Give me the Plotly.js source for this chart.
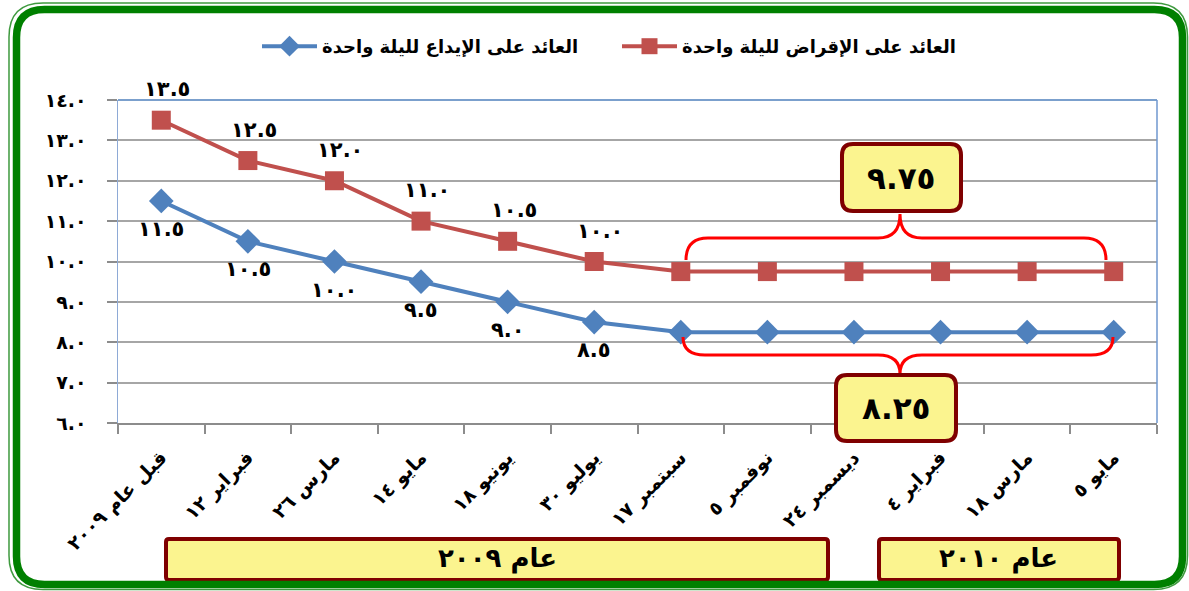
<!DOCTYPE html>
<html>
<head>
<meta charset="utf-8">
<script src="https://cdn.plot.ly/plotly-3.0.1.min.js"></script>
<style>
  html, body { margin: 0; padding: 0; background: #ffffff; }
  #chart { width: 1189px; height: 591px; }
</style>
</head>
<body>
<div id="chart"></div>
<script>
// ---------- DATA ----------
const categories = ['قبل عام ٢٠٠٩', 'فبراير ١٢', 'مارس ٢٦', 'مايو ١٤', 'يونيو ١٨', 'يوليو ٣٠',
                    'سبتمبر ١٧', 'نوفمبر ٥', 'ديسمبر ٢٤', 'فبراير ٤', 'مارس ١٨', 'مايو ٥'];
const depositRate = [11.5, 10.5, 10.0, 9.5, 9.0, 8.5, 8.25, 8.25, 8.25, 8.25, 8.25, 8.25];
const lendingRate = [13.5, 12.5, 12.0, 11.0, 10.5, 10.0, 9.75, 9.75, 9.75, 9.75, 9.75, 9.75];
const depositName = 'العائد على الإيداع لليلة واحدة';
const lendingName = 'العائد على الإقراض لليلة واحدة';
const yTickValues = [6, 7, 8, 9, 10, 11, 12, 13, 14];
const yTickLabels = ['٦.٠', '٧.٠', '٨.٠', '٩.٠', '١٠.٠', '١١.٠', '١٢.٠', '١٣.٠', '١٤.٠'];
const labeledPoints = 6;               // individual labels on the first six points
const lendingCallout = '٩.٧٥';
const depositCallout = '٨.٢٥';
const yearLabels = ['عام ٢٠٠٩', 'عام ٢٠١٠'];

// ---------- HELPERS ----------
const AR = '٠١٢٣٤٥٦٧٨٩';
function toArabic(s) { return String(s).replace(/[0-9]/g, d => AR[+d]); }

const W = 1189, H = 591;
const M = { l: 118, r: 32, t: 100, b: 168 };
const PW = W - M.l - M.r, PH = H - M.t - M.b;
function px(x) { return (x - M.l) / PW; }
function py(y) { return (H - M.b - y) / PH; }
function P(x, y) { return px(x).toFixed(5) + ',' + py(y).toFixed(5); }
function rrect(x0, y0, x1, y1, r) {
  return 'M' + P(x0 + r, y0) + ' L' + P(x1 - r, y0) + ' Q' + P(x1, y0) + ' ' + P(x1, y0 + r) +
         ' L' + P(x1, y1 - r) + ' Q' + P(x1, y1) + ' ' + P(x1 - r, y1) +
         ' L' + P(x0 + r, y1) + ' Q' + P(x0, y1) + ' ' + P(x0, y1 - r) +
         ' L' + P(x0, y0 + r) + ' Q' + P(x0, y0) + ' ' + P(x0 + r, y0) + ' Z';
}
// curly brace: ends at yEnd, bar at yBar, tip at yTip
function brace(x0, x1, xm, yEnd, yBar, yTip, r) {
  return 'M' + P(x0, yEnd) + ' Q' + P(x0, yBar) + ' ' + P(x0 + r, yBar) +
         ' L' + P(xm - r, yBar) + ' Q' + P(xm, yBar) + ' ' + P(xm, yTip) +
         ' Q' + P(xm, yBar) + ' ' + P(xm + r, yBar) +
         ' L' + P(x1 - r, yBar) + ' Q' + P(x1, yBar) + ' ' + P(x1, yEnd);
}

const FONT = 'DejaVu Sans';
const idx = categories.map((_, i) => i);
const boundaries = categories.map((_, i) => i - 0.5).concat([categories.length - 0.5]);

const traces = [
  {
    type: 'scatter', mode: 'lines+markers', name: depositName,
    x: idx, y: depositRate,
    line: { color: '#4f81bd', width: 4 },
    marker: { symbol: 'diamond', size: 19, color: '#4f81bd' },
    hoverinfo: 'skip'
  },
  {
    type: 'scatter', mode: 'lines+markers', name: lendingName,
    x: idx, y: lendingRate,
    line: { color: '#c0504d', width: 4 },
    marker: { symbol: 'square', size: 19, color: '#c0504d' },
    hoverinfo: 'skip'
  }
];

const annotations = [];
const labelFont = { family: FONT, size: 21, color: '#000', weight: 'bold' };
for (let i = 0; i < labeledPoints; i++) {
  annotations.push({
    x: i, y: lendingRate[i], xref: 'x', yref: 'y', showarrow: false,
    xanchor: 'center', yanchor: 'middle',
    text: toArabic(lendingRate[i].toFixed(1)), yshift: 31, xshift: 6, font: labelFont
  });
  annotations.push({
    x: i, y: depositRate[i], xref: 'x', yref: 'y', showarrow: false,
    xanchor: 'center', yanchor: 'middle',
    text: toArabic(depositRate[i].toFixed(1)), yshift: -28, xshift: 0, font: labelFont
  });
}
function paperText(x, y, text, size) {
  return { xref: 'paper', yref: 'paper', x: px(x), y: py(y), xanchor: 'center', yanchor: 'middle',
           showarrow: false, text: text, font: { family: FONT, size: size, color: '#000', weight: 'bold' } };
}
annotations.push(paperText(901.5, 178, lendingCallout, 31));
annotations.push(paperText(896, 408, depositCallout, 31));
annotations.push(paperText(497, 558, yearLabels[0], 26));
annotations.push(paperText(998, 558, yearLabels[1], 26));

const boxLine = { color: '#7f0000', width: 4 };
const boxFill = '#fbf48f';
const shapes = [
  // plot frame (top & right in blue)
  { type: 'line', xref: 'paper', yref: 'paper', x0: 0, x1: 1, y0: 1, y1: 1, line: { color: '#4f81bd', width: 1.5 } },
  { type: 'line', xref: 'paper', yref: 'paper', x0: 1, x1: 1, y0: 0, y1: 1, line: { color: '#6f97cf', width: 1.5 } },
  // braces
  { type: 'path', xref: 'paper', yref: 'paper', path: brace(686, 1106, 900, 260, 238, 214, 22), line: { color: '#ff0000', width: 3 } },
  { type: 'path', xref: 'paper', yref: 'paper', path: brace(683, 1113, 900, 337, 355, 374, 22), line: { color: '#ff0000', width: 3 } },
  // callout boxes
  { type: 'path', xref: 'paper', yref: 'paper', path: rrect(842, 144, 961, 211, 11), line: boxLine, fillcolor: boxFill },
  { type: 'path', xref: 'paper', yref: 'paper', path: rrect(836, 375, 956, 441, 11), line: boxLine, fillcolor: boxFill },
  // year boxes
  { type: 'path', xref: 'paper', yref: 'paper', path: rrect(166, 539, 828, 580, 3), line: boxLine, fillcolor: boxFill },
  { type: 'path', xref: 'paper', yref: 'paper', path: rrect(879, 539, 1119, 580, 3), line: boxLine, fillcolor: boxFill },
  // green outer frame
  { type: 'path', xref: 'paper', yref: 'paper', path: rrect(9, 3, 1187.5, 589.5, 34), line: { color: '#3f9a3f', width: 1.5 } },
  { type: 'path', xref: 'paper', yref: 'paper', path: rrect(16.5, 9.5, 1182.5, 584.5, 28), line: { color: '#008000', width: 7.5 } }
];

const layout = {
  width: W, height: H,
  margin: M,
  paper_bgcolor: '#ffffff', plot_bgcolor: '#ffffff',
  font: { family: FONT, color: '#000' },
  showlegend: true,
  legend: {
    orientation: 'h', x: px(257), y: py(28), xanchor: 'left', yanchor: 'top',
    font: { family: FONT, size: 18, color: '#000', weight: 'bold' },
    itemwidth: 55, entrywidth: 290, bgcolor: 'rgba(0,0,0,0)'
  },
  xaxis: {
    range: [-0.5, categories.length - 0.5],
    tickmode: 'array', tickvals: idx, ticktext: categories,
    tickangle: -45, ticks: '', ticklabelstandoff: 14,
    tickfont: { family: FONT, size: 19, color: '#000', weight: 'bold' },
    showgrid: false, zeroline: false,
    showline: true, linecolor: '#8c8c8c', linewidth: 2,
    minor: { tickmode: 'array', tickvals: boundaries, ticks: 'outside', ticklen: 9, tickcolor: '#8c8c8c', tickwidth: 2, showgrid: false },
    fixedrange: true
  },
  yaxis: {
    range: [6, 14],
    tickmode: 'array', tickvals: yTickValues, ticktext: yTickLabels,
    ticks: 'outside', ticklen: 10, tickcolor: '#8c8c8c', tickwidth: 2,
    ticklabelstandoff: 16,
    tickfont: { family: FONT, size: 19, color: '#000', weight: 'bold' },
    showgrid: true, gridcolor: '#a6a6a6', gridwidth: 2,
    zeroline: false, showline: true, linecolor: '#8eaad6', linewidth: 1.5,
    fixedrange: true
  },
  annotations: annotations,
  shapes: shapes
};

Plotly.newPlot('chart', traces, layout, { displayModeBar: false, staticPlot: true });
</script>
</body>
</html>
